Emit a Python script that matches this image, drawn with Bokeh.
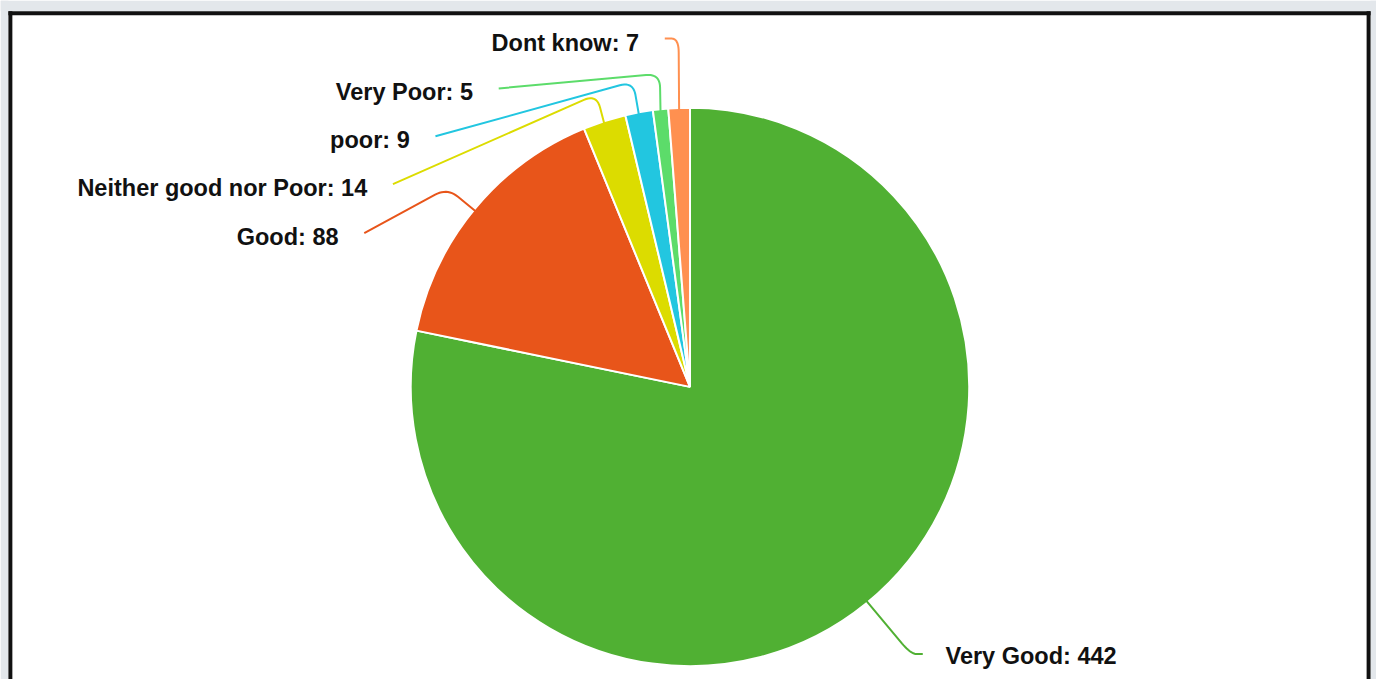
import math
import numpy as np
from bokeh.plotting import figure
from bokeh.models import Range1d, ColumnDataSource, BoxAnnotation
from bokeh.core.properties import value
from bokeh.embed import file_html
from bokeh.resources import INLINE

# ---- data ----
categories = ["Very Good", "Good", "Neither good nor Poor", "poor", "Very Poor", "Dont know"]
counts = [442, 88, 14, 9, 5, 7]
colors = ["#50b033", "#e8551a", "#dcdc00", "#22c6e0", "#5cdc6a", "#ff9050"]

# ---- layout: data units follow a 1392 x 695 canvas, y measured downward via Y() ----
W, H = 1376, 679
UX, UY = 1392, 695


def Y(v):
    return UY - v


CX, CY, R = 697.5, 395.5, 282.5

# label anchor (x, y, align), elbow point of the connector (downward y)
label_pos = {
    "Very Good": (956, 671, "left"),
    "Good": (342, 242, "right"),
    "Neither good nor Poor": (371, 192, "right"),
    "poor": (414, 143, "right"),
    "Very Poor": (478, 94, "right"),
    "Dont know": (646, 44, "right"),
}
elbows = {
    "Very Good": (921, 669),
    "Good": (452, 192),
    "Neither good nor Poor": (603, 96),
    "poor": (640, 83),
    "Very Poor": (667, 75),
    "Dont know": (686, 39),
}

total = sum(counts)
start_angles, end_angles, mids = [], [], []
cur = math.pi / 2
for c in counts:
    span = 2 * math.pi * c / total
    end_angles.append(cur)
    start_angles.append(cur - span)
    mids.append(cur - span / 2)
    cur -= span

p = figure(width=W, height=H, output_backend="svg", toolbar_location=None,
           x_range=Range1d(0, UX), y_range=Range1d(0, UY),
           min_border_left=0, min_border_right=0, min_border_top=0, min_border_bottom=0)
p.axis.visible = False
p.grid.visible = False
p.background_fill_color = "white"
p.border_fill_color = "white"
p.outline_line_color = None

GRAY = "#e3e7eb"
BLACK = "#111111"
for kw in (dict(right=8), dict(bottom=Y(11)), dict(left=1386)):
    p.add_layout(BoxAnnotation(fill_color=GRAY, fill_alpha=1, line_color=None, **kw))
for kw in (dict(left=8, right=12, top=Y(11)),
           dict(left=8, right=1386, top=Y(11), bottom=Y(15)),
           dict(left=1382, right=1386, top=Y(11))):
    p.add_layout(BoxAnnotation(fill_color=BLACK, fill_alpha=1, line_color=None, **kw))

src = ColumnDataSource(dict(x=[CX] * len(counts), y=[Y(CY)] * len(counts),
                            start=start_angles, end=end_angles, color=colors))
p.wedge(x="x", y="y", radius=R, start_angle="start", end_angle="end",
        fill_color="color", line_color="white", line_width=2, source=src)


def rounded(pts, rr=14, n=12):
    (ax, ay), (bx, by), (cx_, cy_) = pts
    d1 = math.hypot(bx - ax, by - ay)
    d2 = math.hypot(cx_ - bx, cy_ - by)
    r1 = min(rr, d1 * 0.5)
    r2 = min(rr, d2 * 0.5)
    p1 = (bx + (ax - bx) * r1 / d1, by + (ay - by) * r1 / d1)
    p2 = (bx + (cx_ - bx) * r2 / d2, by + (cy_ - by) * r2 / d2)
    xs, ys = [ax, p1[0]], [ay, p1[1]]
    for t in np.linspace(0, 1, n)[1:]:
        xs.append((1 - t) ** 2 * p1[0] + 2 * (1 - t) * t * bx + t ** 2 * p2[0])
        ys.append((1 - t) ** 2 * p1[1] + 2 * (1 - t) * t * by + t ** 2 * p2[1])
    xs.append(cx_)
    ys.append(cy_)
    return xs, ys


lxs, lys, lcol = [], [], []
tx, ty, tt, talign = [], [], [], []
for cat, cnt, col, m in zip(categories, counts, colors, mids):
    ax = CX + R * math.cos(m)
    ay = CY - R * math.sin(m)
    lx, ly, al = label_pos[cat]
    ex = lx + 26 if al == "right" else lx - 23
    ey = elbows[cat][1] if cat in ("Very Good", "Dont know") else ly - 4
    xs, ys = rounded([(ax, ay), elbows[cat], (ex, ey)])
    lxs.append(xs)
    lys.append([Y(v) for v in ys])
    lcol.append(col)
    tx.append(lx)
    ty.append(Y(ly))
    tt.append(f"{cat}: {cnt}")
    talign.append(al)

p.multi_line(xs=lxs, ys=lys, line_color=lcol, line_width=2)

tsrc = ColumnDataSource(dict(x=tx, y=ty, text=tt, align=talign))
p.text(x="x", y="y", text="text", text_align="align", text_baseline="middle",
       text_font=value("Liberation Sans"), text_font_style="bold",
       text_font_size="23.5px", text_color="#111111", source=tsrc)

html = file_html(p, INLINE)
html = html.replace("<body>", '<body style="background-color:#e3e7eb;">', 1)
open("out.html", "w").write(html)
